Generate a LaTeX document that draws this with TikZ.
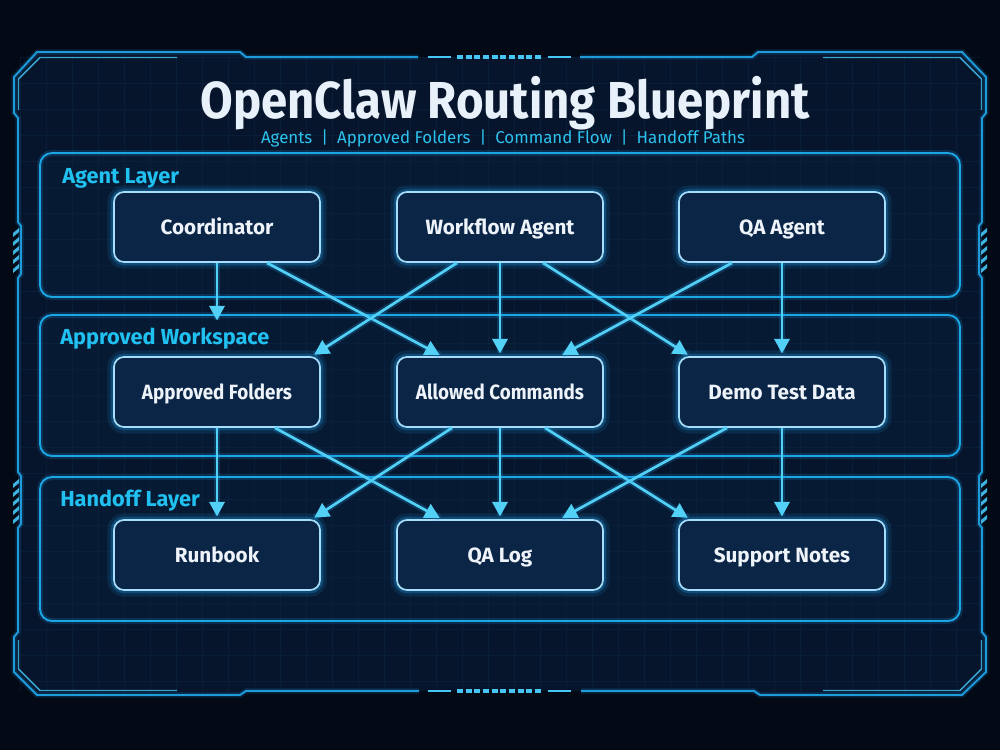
\documentclass[tikz,border=0pt]{standalone}
\usepackage{fontspec}
\setmainfont{Fira Sans}
\usetikzlibrary{arrows.meta,calc}
\definecolor{bgout}{HTML}{030915}
\definecolor{bgin}{HTML}{06152B}
\definecolor{gridc}{HTML}{0E2D50}
\definecolor{framec}{HTML}{1E9BDA}
\definecolor{framehi}{HTML}{46C6F5}
\definecolor{panelc}{HTML}{1BA6E4}
\definecolor{panelfill}{HTML}{071A33}
\definecolor{nodefill}{HTML}{0A2546}
\definecolor{nodeedge}{HTML}{A6DDFB}
\definecolor{glowc}{HTML}{1E9FEA}
\definecolor{arrowc}{HTML}{52D0F5}
\definecolor{titlec}{HTML}{E8F0FA}
\definecolor{subc}{HTML}{2CC2EE}
\definecolor{labelc}{HTML}{20C0F0}
\definecolor{textc}{HTML}{EEF3FA}
\newcommand\hsq[2]{\scalebox{#1}[1]{#2}}
\begin{document}
\begin{tikzpicture}[x=0.75pt,y=-0.75pt,
  framestyle/.style={draw=framec, line width=1.4pt, line join=miter,
     preaction={draw=glowc, line width=4pt, draw opacity=0.18}},
  framehil/.style={draw=framehi, line width=1.1pt, draw opacity=0.8},
  panelbox/.style={draw=panelc, line width=1.4pt, rounded corners=9pt,
     preaction={draw=glowc, line width=4.5pt, draw opacity=0.18}},
  box/.style={rectangle, rounded corners=7.5pt, fill=nodefill, draw=nodeedge,
     line width=1.3pt, minimum width=206*0.75pt, minimum height=70*0.75pt,
     inner sep=0pt, text=textc, font=\fontsize{15.5}{15.5}\selectfont\bfseries,
     text height=11pt, text depth=0pt,
     preaction={draw=glowc, line width=10pt, draw opacity=0.12},
     preaction={draw=glowc, line width=5pt, draw opacity=0.28}},
  conn/.style={draw=arrowc, line width=2pt, shorten >=2pt,
     -{Triangle[length=11pt,width=11.5pt]},
     preaction={draw=glowc, line width=5pt, draw opacity=0.22, -}},
  layerlabel/.style={anchor=base west, text=labelc, inner sep=0pt,
     font=\fontsize{16.3}{16.3}\selectfont\bfseries},
  hatch/.style={fill=framehi, fill opacity=0.9}
]
\useasboundingbox (0,0) rectangle (1000,750);
\fill[bgout] (0,0) rectangle (1000,750);
% frame interior
\fill[bgin] (37,52) -- (240,52) -- (246,57) -- (752,57) -- (758,52) -- (962,52)
  -- (986,77) -- (986,113) -- (982,118) -- (982,632) -- (986,637) -- (986,672)
  -- (962,695) -- (758,695) -- (752,691) -- (246,691) -- (240,695) -- (37,695)
  -- (14,672) -- (14,637) -- (18,632) -- (18,118) -- (14,113) -- (14,77) -- cycle;
% panels fill
\fill[panelfill, rounded corners=9pt] (40,153) rectangle (960,297);
\fill[panelfill, rounded corners=9pt] (40,315) rectangle (960,456);
\fill[panelfill, rounded corners=9pt] (40,477) rectangle (960,621);
% grid
\begin{scope}
\clip (20,57) rectangle (980,691);
\foreach \i in {20,46,...,1000} \draw[gridc, line width=0.5pt, draw opacity=0.35] (\i,0) -- (\i,750);
\foreach \j in {5,31,...,750} \draw[gridc, line width=0.5pt, draw opacity=0.35] (0,\j) -- (1000,\j);
\end{scope}
% frame outline
\draw[framestyle] (418,57) -- (246,57) -- (240,52) -- (37,52) -- (14,77) -- (14,113)
  -- (18,118) -- (18,222) -- (21,226) -- (21,274) -- (18,278) -- (18,472) -- (21,476)
  -- (21,524) -- (18,528) -- (18,632) -- (14,637) -- (14,672) -- (37,695) -- (240,695)
  -- (246,691) -- (419,691);
\draw[framestyle] (580,57) -- (752,57) -- (758,52) -- (962,52) -- (986,77) -- (986,113)
  -- (982,118) -- (982,222) -- (979,226) -- (979,274) -- (982,278) -- (982,472) -- (979,476)
  -- (979,524) -- (982,528) -- (982,632) -- (986,637) -- (986,672) -- (962,695) -- (760,695)
  -- (754,691) -- (581,691);
% corner inner highlight lines
\draw[framehil] (177,57.5) -- (40,57.5) -- (18.5,79) -- (18.5,110);
\draw[framehil] (823,57.5) -- (960,57.5) -- (981.5,79) -- (981.5,110);
\draw[framehil] (177,690.5) -- (40,690.5) -- (18.5,669) -- (18.5,640);
\draw[framehil] (823,690.5) -- (960,690.5) -- (981.5,669) -- (981.5,640);
% center notches top and bottom
\foreach \yy in {57,691} {
  \draw[framehi, line width=2.2pt] (428,\yy) -- (451,\yy);
  \draw[framehi, line width=2.2pt] (548,\yy) -- (571,\yy);
  \draw[framehi, line width=2.6pt, dash pattern=on 4.6pt off 1.9pt] (457,\yy) -- (542,\yy);
}
% side hatch marks
\foreach \yy in {228,237,...,266} {
  \fill[hatch] (13,\yy+5) -- (19,\yy) -- (19,\yy+4) -- (13,\yy+9) -- cycle;
  \fill[hatch] (981,\yy+5) -- (987,\yy) -- (987,\yy+4) -- (981,\yy+9) -- cycle;
}
\foreach \yy in {479,488,...,517} {
  \fill[hatch] (13,\yy+5) -- (19,\yy) -- (19,\yy+4) -- (13,\yy+9) -- cycle;
  \fill[hatch] (981,\yy+5) -- (987,\yy) -- (987,\yy+4) -- (981,\yy+9) -- cycle;
}
% title and subtitle
\node[anchor=base, text=titlec, inner sep=0pt, font=\fontsize{39}{39}\selectfont\bfseries] (title) at (505,118) {\hsq{0.91}{OpenClaw Routing Blueprint}};
\node[anchor=base, text=subc, inner sep=0pt, font=\fontsize{12.8}{12.8}\selectfont] (subtitle) at (503,143) {\hsq{0.99}{Agents \ | \ Approved Folders \ | \ Command Flow \ | \ Handoff Paths}};
% panels
\draw[panelbox] (40,153) rectangle (960,297);
\draw[panelbox] (40,315) rectangle (960,456);
\draw[panelbox] (40,477) rectangle (960,621);
\node[layerlabel] (l1) at (62,183) {Agent Layer};
\node[layerlabel] (l2) at (60,344) {Approved Workspace};
\node[layerlabel] (l3) at (60,506) {Handoff Layer};
% nodes
\node[box] (coord) at (217,227) {Coordinator};
\node[box] (wfa)   at (500,227) {Workflow Agent};
\node[box] (qaa)   at (782,227) {QA Agent};
\node[box] (apf)   at (217,392) {\hsq{0.91}{Approved Folders}};
\node[box] (alc)   at (500,392) {\hsq{0.91}{Allowed Commands}};
\node[box] (dtd)   at (782,392) {Demo Test Data};
\node[box] (rb)    at (217,555) {Runbook};
\node[box] (qal)   at (500,555) {QA Log};
\node[box] (sn)    at (782,555) {Support Notes};
% connectors row 1 -> row 2
\draw[conn] (coord.south) -- ($(apf.north)+(0,-33)$);
\draw[conn] ($(coord.south)+(50,0)$) -- ($(alc.north)+(-58,0)$);
\draw[conn] ($(wfa.south)+(-43,0)$) -- ($(apf.north)+(95,0)$);
\draw[conn] (wfa.south) -- (alc.north);
\draw[conn] ($(wfa.south)+(43,0)$) -- ($(dtd.north)+(-92,0)$);
\draw[conn] ($(qaa.south)+(-50,0)$) -- ($(alc.north)+(60,0)$);
\draw[conn] (qaa.south) -- (dtd.north);
% connectors row 2 -> row 3
\draw[conn] (apf.south) -- (rb.north);
\draw[conn] ($(apf.south)+(58,0)$) -- ($(qal.north)+(-58,0)$);
\draw[conn] ($(alc.south)+(-48,0)$) -- ($(rb.north)+(95,0)$);
\draw[conn] (alc.south) -- (qal.north);
\draw[conn] ($(alc.south)+(45,0)$) -- ($(sn.north)+(-92,0)$);
\draw[conn] ($(dtd.south)+(-55,0)$) -- ($(qal.north)+(60,0)$);
\draw[conn] (dtd.south) -- (sn.north);
\end{tikzpicture}
\end{document}
